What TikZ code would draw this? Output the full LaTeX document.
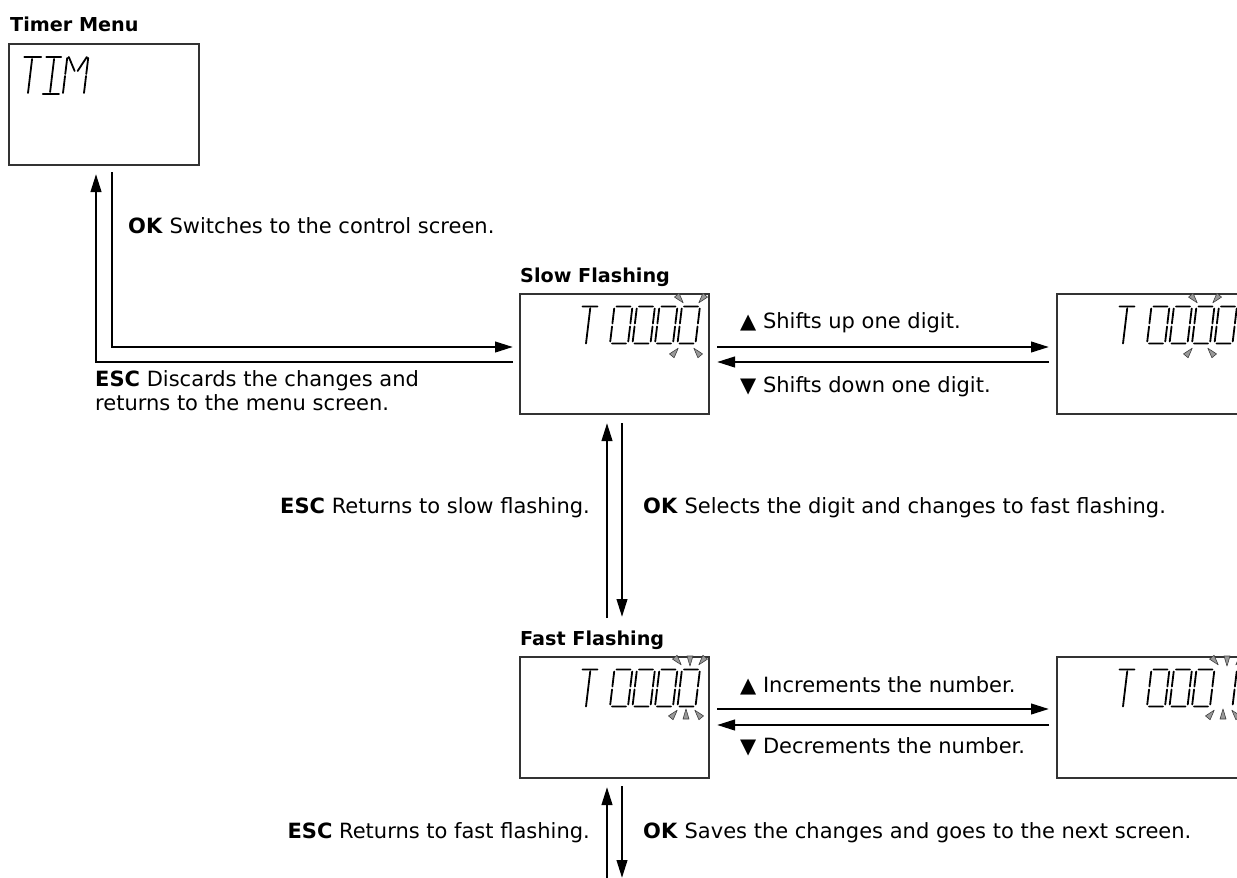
\documentclass[tikz,border=0pt]{standalone}
\usepackage{fontspec}
\setmainfont{DejaVu Sans}
\usetikzlibrary{arrows.meta,calc}
\newcommand\segT{\draw[lcd] (0,-37)--(15,-37) (8,-35)--(8,0);}
\newcommand\segO{\draw[lcd] (2,-37)--(16,-37) (18,-35)--(18,-20) (18,-17)--(18,-2) (2,0)--(16,0) (0,-2)--(0,-17) (0,-20)--(0,-35);}
\newcommand\segI{\draw[lcd] (18,-35)--(18,-20) (18,-17)--(18,-2);}
\newcommand\lcdrow[1]{%
 \begin{scope}[shift={(58,49.5)},xslant=0.12]\segT\end{scope}
 \begin{scope}[shift={(90,49.5)},xslant=0.12]\segO\end{scope}
 \begin{scope}[shift={(112.5,49.5)},xslant=0.12]\segO\end{scope}
 \begin{scope}[shift={(135,49.5)},xslant=0.12]\segO\end{scope}
 \begin{scope}[shift={(157.5,49.5)},xslant=0.12]#1\end{scope}}
\newcommand\lcdray[3]{\draw[ray] ($(#1,#2)+(#3:5)$) -- ($(#1,#2)+(#3+180:5)+(#3+90:3)$) -- ($(#1,#2)+(#3+180:5)+(#3-90:3)$) -- cycle;}
\begin{document}
\begin{tikzpicture}[x=1pt,y=-1pt,
  screen/.style={draw=black!80,line width=1.4pt,inner sep=0pt,outer sep=0pt,minimum width=189pt,minimum height=120pt},
  arr/.style={line width=2.5pt,-{Triangle[length=18pt,width=10.5pt]}},
  lbl/.style={font=\fontsize{21}{25}\selectfont,inner sep=0pt,anchor=base west},
  lblr/.style={lbl,anchor=base east},
  ttl/.style={font=\fontsize{19.2}{23}\selectfont\bfseries,inner sep=0pt,anchor=base west},
  lcd/.style={line width=1.8pt,line cap=round,black},
  ray/.style={fill=black!40,draw=black!75,line width=0.6pt,line join=round}]
\clip (0,0) rectangle (1237,878);
\fill[white] (0,0) rectangle (1237,878);
% screens
\node[screen,minimum width=190pt,minimum height=121pt] (timer) at (104,104.5) {};
\node[screen] (slow) at (614.5,354) {};
\node[screen] (slowR) at (1151.5,354) {};
\node[screen,minimum height=121pt] (fast) at (614.5,717.5) {};
\node[screen,minimum height=121pt] (fastR) at (1151.5,717.5) {};
% titles
\node[ttl] (tTimer) at (10,31) {Timer Menu};
\node[ttl] (tSlow) at (520,282) {Slow Flashing};
\node[ttl] (tFast) at (520,645) {Fast Flashing};
% LCD contents
\begin{scope}[shift={(timer.north west)}]
 \begin{scope}[shift={(11,49)},xslant=0.12]
  \draw[lcd] (0,-36)--(17,-36) (8,-34)--(8,0);
  \draw[lcd] (22,-36)--(37,-36) (30,-34)--(30,-1) (23,1)--(39,1);
  \draw[lcd] (43,0)--(43,-17) (43,-19)--(43,-35) (64,0)--(64,-17) (64,-19)--(64,-35)
             (44.5,-36)--(52,-22) (62.5,-36)--(55,-22);
 \end{scope}
\end{scope}
\begin{scope}[shift={(slow.north west)}]
 \lcdrow{\segO}
 \lcdray{160}{5}{50}\lcdray{182}{5}{130}\lcdray{155}{58}{-50}\lcdray{177}{58}{-130}
\end{scope}
\begin{scope}[shift={(slowR.north west)}]
 \lcdrow{\segO}
 \lcdray{137}{5}{50}\lcdray{159}{5}{130}\lcdray{132}{58}{-50}\lcdray{154}{58}{-130}
\end{scope}
\begin{scope}[shift={(fast.north west)}]
 \lcdrow{\segO}
 \lcdray{158}{4}{50}\lcdray{170}{4}{90}\lcdray{182}{4}{130}
 \lcdray{154}{57}{-50}\lcdray{166}{57}{-90}\lcdray{178}{57}{-130}
\end{scope}
\begin{scope}[shift={(fastR.north west)}]
 \lcdrow{\segI}
 \lcdray{158}{4}{50}\lcdray{170}{4}{90}\lcdray{182}{4}{130}
 \lcdray{154}{57}{-50}\lcdray{166}{57}{-90}\lcdray{178}{57}{-130}
\end{scope}
% connectors
\draw[arr] ([shift={(8,7)}]timer.south) |- ([shift={(-7,-7)}]slow.west);
\draw[arr] ([shift={(-7,8)}]slow.west) -| ([shift={(-8,9)}]timer.south);
\draw[arr] ([shift={(8,-7)}]slow.east) -- ([shift={(-8,-7)}]slowR.west);
\draw[arr] ([shift={(-8,8)}]slowR.west) -- ([shift={(8,8)}]slow.east);
\draw[arr] ([shift={(8,-8.5)}]fast.east) -- ([shift={(-8,-8.5)}]fastR.west);
\draw[arr] ([shift={(-8,7.5)}]fastR.west) -- ([shift={(8,7.5)}]fast.east);
\draw[arr] ([shift={(7.5,9)}]slow.south) -- ([shift={(7.5,-40)}]fast.north);
\draw[arr] ([shift={(-7.5,-39)}]fast.north) -- ([shift={(-7.5,9)}]slow.south);
\coordinate (outA) at (607,880);
\coordinate (outB) at (622,878);
\draw[arr] (outA) -- ([shift={(-7.5,9)}]fast.south);
\draw[arr] ([shift={(7.5,8)}]fast.south) -- (outB);
% labels
\node[lbl] (l1) at (128,233) {\textbf{OK} Switches to the control screen.};
\node[lbl] (l2) at (95,386) {\textbf{ESC} Discards the changes and};
\node[lbl] (l2b) at (95,410) {returns to the menu screen.};
\node[lbl] (l3) at (740,328) {▲ Shifts up one digit.};
\node[lbl] (l4) at (740,392) {▼ Shifts down one digit.};
\node[lblr] (l5) at (590,513) {\textbf{ESC} Returns to slow flashing.};
\node[lbl] (l6) at (643,513) {\textbf{OK} Selects the digit and changes to fast flashing.};
\node[lbl] (l7) at (740,692) {▲ Increments the number.};
\node[lbl] (l8) at (740,753) {▼ Decrements the number.};
\node[lblr] (l9) at (590,838) {\textbf{ESC} Returns to fast flashing.};
\node[lbl] (l10) at (643,838) {\textbf{OK} Saves the changes and goes to the next screen.};
\end{tikzpicture}
\end{document}
